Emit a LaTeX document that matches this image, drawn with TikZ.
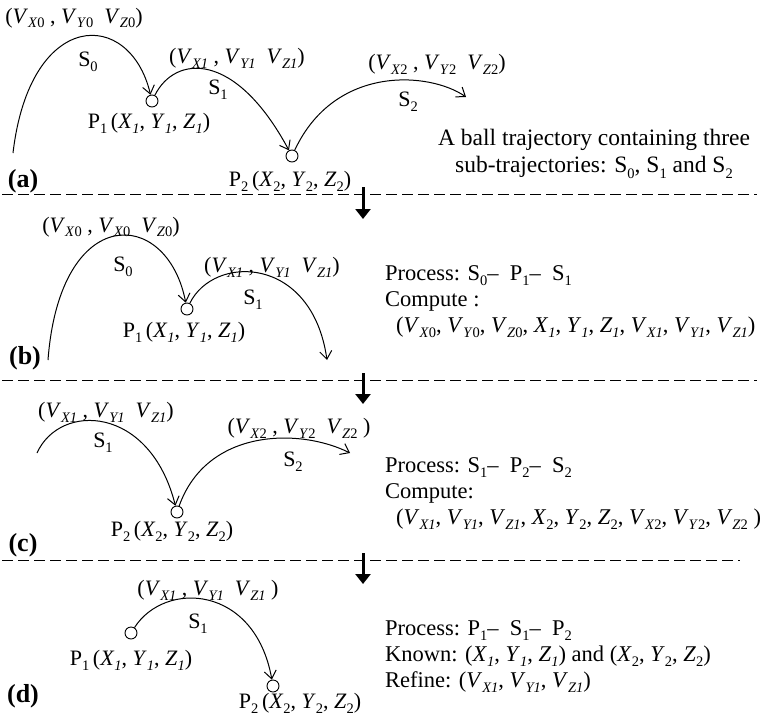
\documentclass[tikz,border=0pt]{standalone}
\usepackage{fontspec}
\setmainfont{Liberation Serif}
\usetikzlibrary{arrows.meta}

\newcommand{\dn}[1]{\raisebox{-0.22em}{\fontsize{14.5}{14.5}\selectfont #1}}
\newcommand{\velo}[2]{\textit{V}\dn{\textit{#1}#2}}
\newcommand{\crd}[2]{\textit{#1}\dn{#2}}
\newcommand{\idx}[2]{#1\dn{#2}}

\begin{document}
\begin{tikzpicture}[
    x=1pt, y=-1pt,
    txt/.style={font=\fontsize{22}{26}\selectfont, inner sep=0pt},
    note/.style={font=\fontsize{22.5}{26}\selectfont, inner sep=0pt, align=left, anchor=west},
    tag/.style={font=\fontsize{26}{26}\selectfont\bfseries, inner sep=0pt},
    ball/.style={draw, circle, line width=0.9pt, minimum size=12pt, inner sep=0pt},
    traj/.style={line width=1pt, -{Straight Barb[length=8pt,width=12pt]}},
    cut/.style={line width=0.9pt, dash pattern=on 10.5pt off 5.5pt},
    down/.style={line width=3pt, -{Triangle[length=10pt,width=15pt]}},
]
\useasboundingbox (0,0) rectangle (762,717);

% ── (a) whole trajectory ──
\coordinate (a0) at (13,153);
\node[ball] (a1) at (152,101) {};
\node[ball] (a2) at (292,156) {};
\coordinate (a3) at (466,97);
\draw[traj] (a0) .. controls (30,8) and (130,8) .. (a1);
\draw[traj] (a1) .. controls (175,55) and (235,50) .. (a2);
\draw[traj] (a2) .. controls (335,64) and (430,72) .. (a3);

\node[txt] (va0) at (74,18) {(\velo{X}{0} , \velo{Y}{0}\ \ \velo{Z}{0})};
\node[txt] (sa0) at (88,62) {\idx{S}{0}};
\node[txt] (va1) at (237,58) {(\velo{X1}{} , \velo{Y1}{}\ \ \velo{Z1}{})};
\node[txt] (sa1) at (218,90) {\idx{S}{1}};
\node[txt] (va2) at (437,64) {(\velo{X}{2} , \velo{Y}{2}\ \ \velo{Z}{2})};
\node[txt] (sa2) at (408,102) {\idx{S}{2}};
\node[txt] (pa1) at (149,123) {\idx{P}{1}\,(\crd{X}{\textit{1}}, \crd{Y}{\textit{1}}, \crd{Z}{\textit{1}})};
\node[txt] (pa2) at (290,181) {\idx{P}{2}\,(\crd{X}{2}, \crd{Y}{2}, \crd{Z}{2})};
\node[tag] (ta) at (23,181) {(a)};
\node[txt, font=\fontsize{23.5}{27}\selectfont, align=center] (na) at (594,154)
    {A ball trajectory containing three\\sub-trajectories: \idx{S}{0}, \idx{S}{1} and \idx{S}{2}};

% ── cut 1 ──
\draw[cut] (2,194) -- (757,194);
\coordinate (d1s) at (363,187);
\coordinate (d1e) at (363,219);
\draw[down] (d1s) -- (d1e);

% ── (b) S0 - P1 - S1 ──
\coordinate (b0) at (48,360);
\node[ball] (b1) at (187,309) {};
\coordinate (b2) at (327,360);
\draw[traj] (b0) .. controls (60,202) and (167,207) .. (b1);
\draw[traj] (b1) .. controls (214,254) and (312,255) .. (b2);

\node[txt] (vb0) at (111,227) {(\velo{X}{0} , \velo{X}{0}\ \ \velo{Z}{0})};
\node[txt] (sb0) at (123,267) {\idx{S}{0}};
\node[txt] (vb1) at (272,267) {(\velo{X1}{} , \velo{Y1}{}\ \ \velo{Z1}{})};
\node[txt] (sb1) at (253,300) {\idx{S}{1}};
\node[txt] (pb1) at (184,332) {\idx{P}{1}\,(\crd{X}{\textit{1}}, \crd{Y}{\textit{1}}, \crd{Z}{\textit{1}})};
\node[tag] (tb) at (25,358) {(b)};
\node[note] (nb) at (385,302)
    {Process: \idx{S}{0}–\ \ \idx{P}{1}–\ \ \idx{S}{1}\\
     Compute :\\
     \hspace*{11pt}(\velo{X}{0}, \velo{Y}{0}, \velo{Z}{0}, \crd{X}{\textit{1}}, \crd{Y}{\textit{1}}, \crd{Z}{\textit{1}}, \velo{X1}{}, \velo{Y1}{}, \velo{Z1}{})};

% ── cut 2 ──
\draw[cut] (2,380) -- (757,380);
\coordinate (d2s) at (363,373);
\coordinate (d2e) at (363,404);
\draw[down] (d2s) -- (d2e);

% ── (c) S1 - P2 - S2 ──
\coordinate (c0) at (37,453);
\node[ball] (c1) at (177,512) {};
\coordinate (c2) at (350,453);
\draw[traj] (c0) .. controls (60,402) and (150,405) .. (c1);
\draw[traj] (c1) .. controls (207,428) and (300,428) .. (c2);

\node[txt] (vc1) at (106,412) {(\velo{X1}{} , \velo{Y1}{}\ \ \velo{Z1}{})};
\node[txt] (sc1) at (103,443) {\idx{S}{1}};
\node[txt] (vc2) at (299,428) {(\velo{X}{2} , \velo{Y}{2}\ \ \velo{Z}{2} )};
\node[txt] (sc2) at (293,462) {\idx{S}{2}};
\node[txt] (pc2) at (172,531) {\idx{P}{2}\,(\crd{X}{2}, \crd{Y}{2}, \crd{Z}{2})};
\node[tag] (tc) at (23,545) {(c)};
\node[note] (nc) at (385,494)
    {Process: \idx{S}{1}–\ \ \idx{P}{2}–\ \ \idx{S}{2}\\
     Compute:\\
     \hspace*{11pt}(\velo{X1}{}, \velo{Y1}{}, \velo{Z1}{}, \crd{X}{2}, \crd{Y}{2}, \crd{Z}{2}, \velo{X}{2}, \velo{Y}{2}, \velo{Z}{2} )};

% ── cut 3 ──
\draw[cut] (2,560) -- (740,560);
\coordinate (d3s) at (363,553);
\coordinate (d3e) at (363,584);
\draw[down] (d3s) -- (d3e);

% ── (d) P1 - S1 - P2 ──
\node[ball] (d1) at (131,633) {};
\node[ball] (d2) at (273,686) {};
\draw[traj] (d1) .. controls (165,580) and (255,585) .. (d2);

\node[txt] (vd1) at (208,590) {(\velo{X1}{} , \velo{Y1}{}\ \ \velo{Z1}{} )};
\node[txt] (sd1) at (198,624) {\idx{S}{1}};
\node[txt] (pd1) at (131,660) {\idx{P}{1}\,(\crd{X}{\textit{1}}, \crd{Y}{\textit{1}}, \crd{Z}{\textit{1}})};
\node[txt] (pd2) at (300,703) {\idx{P}{2}\,(\crd{X}{2}, \crd{Y}{2}, \crd{Z}{2})};
\node[tag] (td) at (23,696) {(d)};
\node[note] (nd) at (385,657)
    {Process: \idx{P}{1}–\ \ \idx{S}{1}–\ \ \idx{P}{2}\\
     Known: (\crd{X}{\textit{1}}, \crd{Y}{\textit{1}}, \crd{Z}{\textit{1}}) and (\crd{X}{2}, \crd{Y}{2}, \crd{Z}{2})\\
     Refine: (\velo{X1}{}, \velo{Y1}{}, \velo{Z1}{})};

\end{tikzpicture}
\end{document}
